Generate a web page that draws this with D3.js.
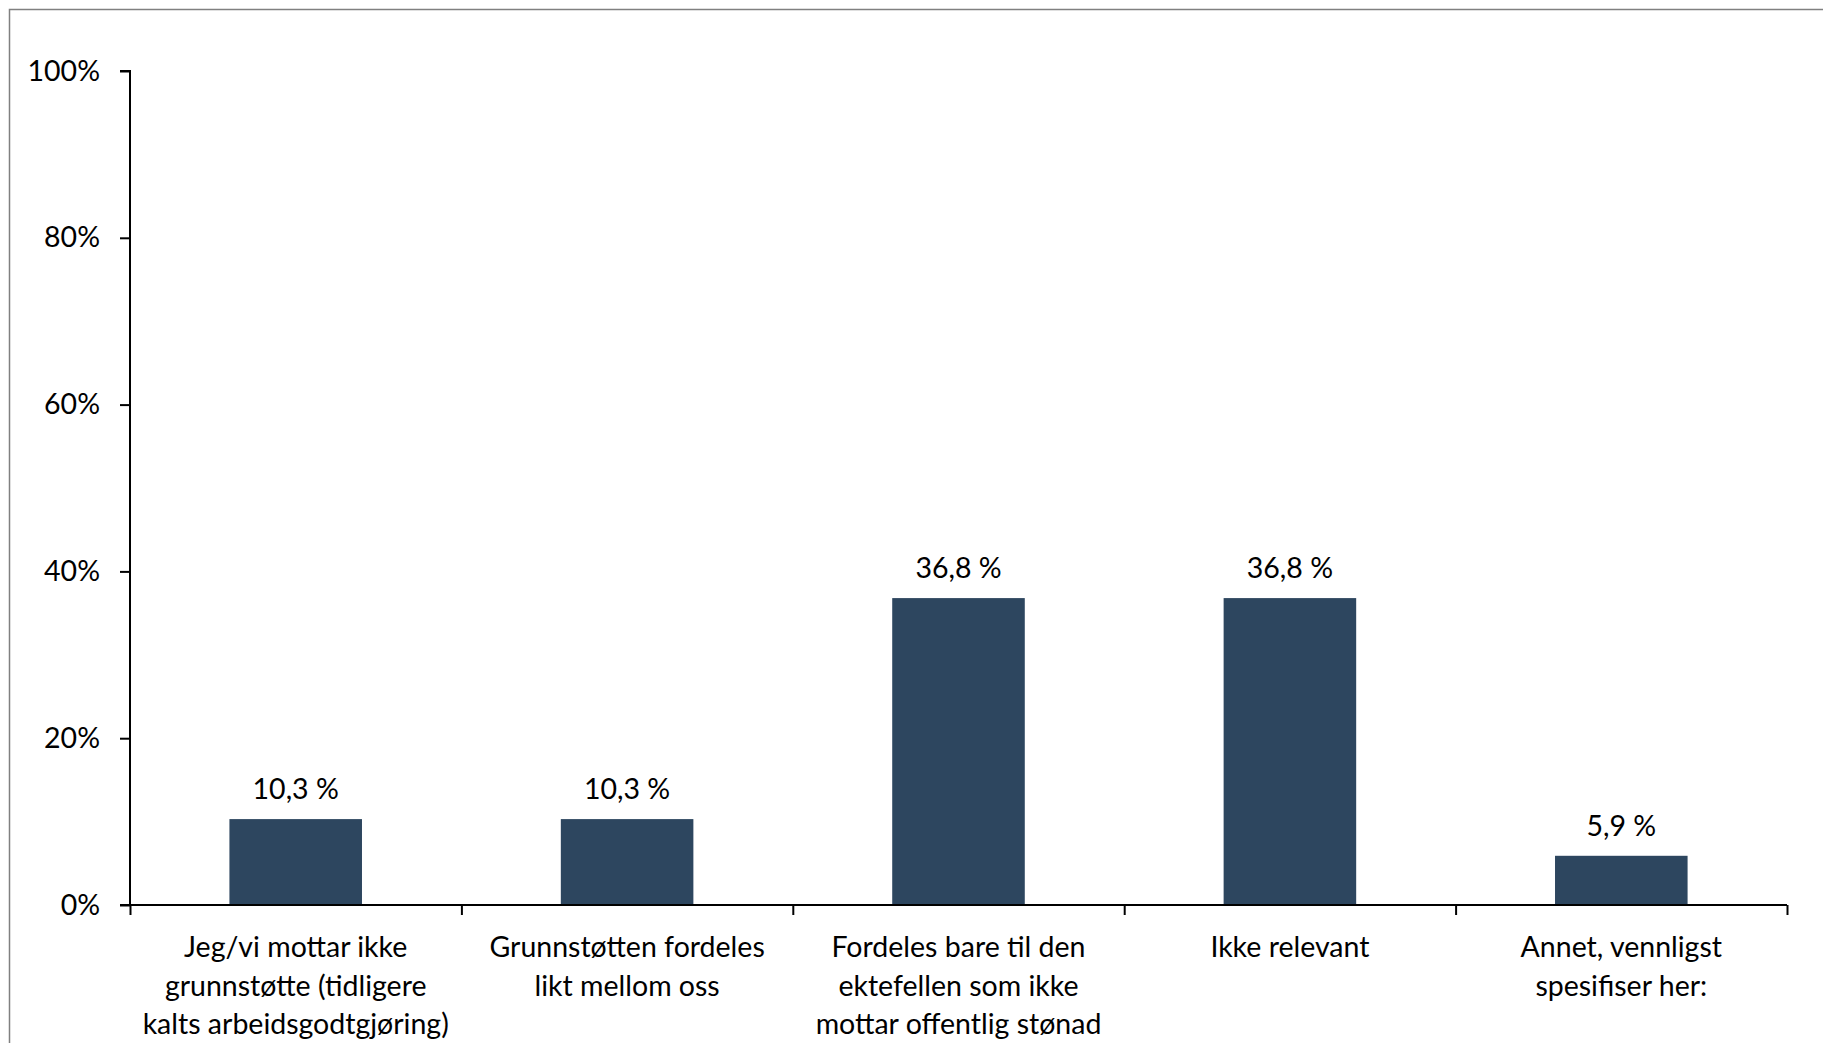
<!DOCTYPE html>
<html><head><meta charset="utf-8">
<script src="https://cdn.jsdelivr.net/npm/d3@7"></script>
<style>html,body{margin:0;padding:0;background:#fff;overflow:hidden}</style>
</head><body>
<svg id="chart" width="1823" height="1043"></svg>
<script>
const categories = [
  ["Jeg/vi mottar ikke", "grunnstøtte (tidligere", "kalts arbeidsgodtgjøring)"],
  ["Grunnstøtten fordeles", "likt mellom oss"],
  ["Fordeles bare til den", "ektefellen som ikke", "mottar offentlig stønad"],
  ["Ikke relevant"],
  ["Annet, vennligst", "spesifiser her:"]
];
const values = [10.3, 10.3, 36.8, 36.8, 5.9];
const valueLabels = ["10,3 %", "10,3 %", "36,8 %", "36,8 %", "5,9 %"];
const yTicks = [0, 20, 40, 60, 80, 100];

(function() {
const svg = d3.select("#chart");
const font = "Lato, 'Open Sans', sans-serif";
const fs = 28.5;

svg.append("rect").attr("x", 9.5).attr("y", 9.5).attr("width", 1830).attr("height", 1060)
  .attr("fill", "none").attr("stroke", "#808080").attr("stroke-width", 1.5);

const pl = 130, pr = 1787, pt = 71, pb = 905;
const idx = categories.map((d, i) => i);
const x = d3.scaleBand().domain(idx).range([pl, pr]).paddingInner(0).paddingOuter(0);
const y = d3.scaleLinear().domain([0, 100]).range([pb, pt]);

svg.append("g").selectAll("rect").data(values).join("rect")
  .attr("x", (d, i) => x(i) + x.bandwidth() * 0.3)
  .attr("width", x.bandwidth() * 0.4)
  .attr("y", d => y(d))
  .attr("height", d => y(0) - y(d))
  .attr("fill", "#2d465f");

svg.append("g").selectAll("text").data(values).join("text")
  .attr("x", (d, i) => x(i) + x.bandwidth() / 2)
  .attr("y", d => y(d) - 20)
  .attr("text-anchor", "middle")
  .attr("font-family", font).attr("font-size", fs).attr("fill", "#000")
  .text((d, i) => valueLabels[i]);

const yAxis = d3.axisLeft(y).tickValues(yTicks).tickFormat(d => d + "%").tickSize(10).tickPadding(20);
const gy = svg.append("g").attr("transform", `translate(${pl},0)`).call(yAxis);
gy.select(".domain").attr("stroke", "#000").attr("stroke-width", 2).attr("d", `M-10,${pt}H0V${pb}`);
gy.selectAll(".tick line").attr("stroke", "#000").attr("stroke-width", 2);
gy.selectAll(".tick text").attr("font-family", font).attr("font-size", fs).attr("fill", "#000");

const xb = d3.scaleLinear().domain([0, categories.length]).range([pl, pr]);
const xAxis = d3.axisBottom(xb).tickValues(d3.range(0, categories.length + 1)).tickSize(10).tickFormat("");
const gx = svg.append("g").attr("transform", `translate(0,${pb})`).call(xAxis);
gx.select(".domain").attr("stroke", "#000").attr("stroke-width", 2).attr("d", `M${pl - 10},0H${pr}`);
gx.selectAll(".tick line").attr("stroke", "#000").attr("stroke-width", 2);

const cl = svg.append("g").selectAll("text").data(categories).join("text")
  .attr("text-anchor", "middle")
  .attr("font-family", font).attr("font-size", fs).attr("fill", "#000");
cl.each(function(lines, i) {
  d3.select(this).selectAll("tspan").data(lines).join("tspan")
    .attr("x", x(i) + x.bandwidth() / 2)
    .attr("y", (l, j) => 957 + j * 38.5)
    .text(l => l);
});
})();
</script>
</body></html>
